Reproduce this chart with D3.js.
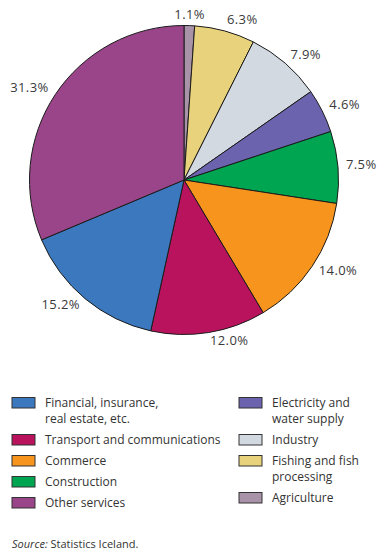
<!DOCTYPE html>
<html>
<head>
<meta charset="utf-8">
<script src="https://cdn.jsdelivr.net/npm/d3@7/dist/d3.min.js"></script>
<style>
  html, body { margin: 0; padding: 0; background: #fff; }
  svg { display: block; font-family: "Open Sans", "Noto Sans", sans-serif; }
</style>
</head>
<body>
<svg id="chart" width="377" height="554"></svg>
<script>
// Sectors, clockwise from twelve o'clock
const sectors = ["Agriculture", "Fishing and fish processing", "Industry",
  "Electricity and water supply", "Construction", "Commerce",
  "Transport and communications", "Financial, insurance, real estate, etc.",
  "Other services"];
const shares = [1.1, 6.3, 7.9, 4.6, 7.5, 14.0, 12.0, 15.2, 31.3];
const colors = ["#a993a8", "#e8d27c", "#d3d9e1", "#6b63ad", "#00a551",
  "#f7941d", "#b9135d", "#3b78be", "#9a4589"];

// Legend columns and wrapped label lines
const legendLeft = ["Financial, insurance, real estate, etc.",
  "Transport and communications", "Commerce", "Construction", "Other services"];
const legendRight = ["Electricity and water supply", "Industry",
  "Fishing and fish processing", "Agriculture"];
const legendLines = {
  "Financial, insurance, real estate, etc.": ["Financial, insurance,", "real estate, etc."],
  "Electricity and water supply": ["Electricity and", "water supply"],
  "Fishing and fish processing": ["Fishing and fish", "processing"]
};

const svg = d3.select("#chart");
const cx = 184, cy = 180, r = 154.5;

const color = d3.scaleOrdinal().domain(sectors).range(colors);
const pie = d3.pie().sort(null).value(d => d.v);
const arcs = pie(sectors.map((s, i) => ({ s, v: shares[i] })));
const arc = d3.arc().innerRadius(0).outerRadius(r);

const g = svg.append("g").attr("transform", `translate(${cx},${cy})`);
g.selectAll("path.slice").data(arcs).join("path")
  .attr("class", "slice")
  .attr("d", arc)
  .attr("fill", d => color(d.data.s))
  .attr("stroke", "#1b1b1b")
  .attr("stroke-width", 1)
  .attr("stroke-linejoin", "round");

// Percentage labels outside the rim
const labelR = r + 8;
g.selectAll("text.pct").data(arcs).join("text")
  .attr("class", "pct")
  .each(function (d) {
    const a = (d.startAngle + d.endAngle) / 2;
    const dx = Math.sin(a), dy = -Math.cos(a);
    const x = dx * labelR, y = dy * labelR;
    const anchor = dx > 0.15 ? "start" : dx < -0.15 ? "end" : "middle";
    d3.select(this)
      .attr("x", x)
      .attr("y", y + dy * 2 + 3)
      .attr("text-anchor", anchor);
  })
  .attr("font-size", 13)
  .attr("letter-spacing", 0.4)
  .attr("fill", "#3a3a3a")
  .text(d => d3.format(".1f")(d.data.v) + "%");

// Legend
function drawLegend(items, x0, y0) {
  let y = y0;
  items.forEach(name => {
    const lines = legendLines[name] || [name];
    const lg = svg.append("g");
    lg.append("rect")
      .attr("x", x0).attr("y", y - 5.5)
      .attr("width", 23).attr("height", 10.5)
      .attr("fill", color(name))
      .attr("stroke", "#333").attr("stroke-width", 1);
    lines.forEach((ln, i) => {
      lg.append("text")
        .attr("x", x0 + 33).attr("y", y + i * 16 + 4)
        .attr("font-size", 12)
        .attr("fill", "#333")
        .text(ln);
    });
    y += (lines.length - 1) * 16 + 21;
  });
}
drawLegend(legendLeft, 12, 403);
drawLegend(legendRight, 239, 403);

// Source note
const src = svg.append("text")
  .attr("x", 12).attr("y", 548)
  .attr("font-size", 11)
  .attr("fill", "#333");
src.append("tspan").attr("font-style", "italic").text("Source:");
src.append("tspan").text(" Statistics Iceland.");
</script>
</body>
</html>
